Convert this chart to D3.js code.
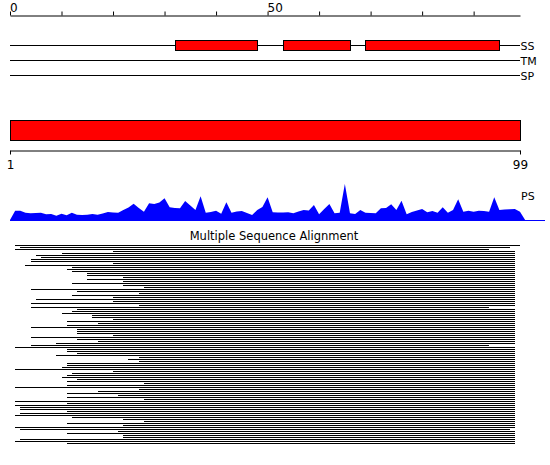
<!DOCTYPE html>
<html><head><meta charset="utf-8">
<script src="https://cdn.jsdelivr.net/npm/d3@7"></script>
<style>body{margin:0;background:#fff}svg{display:block}text{font-family:"DejaVu Sans",sans-serif}</style>
</head><body>
<svg id="chart" width="550" height="465"></svg>
<script>
// ---- data ----
const topTicks = [0,10,20,30,40,50,60,70,80,90];
const topLabels = [0,50];
const trackNames = ["SS","TM","SP"];
const ssStarts = [32,53,69];
const ssEnds   = [48,66,95];
const domainStart = 0, domainEnd = 99;
const rangeLabels = [1,99];
const psValues = [9.3,9.3,7.3,6.7,7,7.3,5.7,6,4.3,6.3,4.7,7.3,5.3,5,5.3,6,5.3,6.5,8,7.5,
  7.3,10,12.5,16.3,12,8.3,16.7,16,17.5,21.7,12.7,12,11.7,19,14.5,10,23.7,7.3,8,9.3,
  6.3,17.7,7.3,8.5,9,7,5,10,13,22.7,7.7,7.5,7.5,7.7,6.7,8.5,10,9.5,15,5.7,
  11,16,6.7,7.3,36,6.7,6,10,7.3,7,6.7,11.7,12,15.7,10,19.3,5.7,8,9.5,11,
  7.7,9,7.3,12.7,7.3,10,20.7,8.3,9.3,8.3,9.3,9,8.3,22.7,10,10.5,10.7,11,8.3]; // residues 1..99
const msaStarts = [1,2,1,20,10,5,6,4,4,20,3,12,11,12,15,15,22,15,22,12,
  22,26,4,13,25,12,20,5,20,4,25,4,13,12,10,16,16,20,11,17,
  11,4,13,13,13,20,4,13,17,9,4,1,11,11,13,9,25,23,25,11,
  11,10,1,20,12,11,10,13,11,26,11,1,25,17,11,21,11,26,1,11,
  1,2,2,11,2,1,12,22,26,11,22,1,2,21,11,22,22,2,1,11];
const msaEnds = [99,97,93,98,98,98,98,98,98,98,98,98,98,98,98,98,98,98,98,98,
  98,98,98,98,98,98,98,98,98,98,98,93,98,98,98,98,98,98,98,98,
  98,98,98,98,98,98,98,98,98,98,93,98,98,98,98,98,98,98,98,98,
  98,98,98,98,98,98,98,98,98,98,98,98,98,98,98,98,98,98,98,98,
  98,98,98,98,98,98,98,98,98,98,98,98,97,98,98,98,98,98,98,98];
const msaTitle = "Multiple Sequence Alignment";

// ---- drawing ----
const svg = d3.select("#chart");
const x = d3.scaleLinear().domain([domainStart, domainEnd]).range([10, 520]);

// top ruler
const topAxis = d3.axisTop(x).tickValues(topTicks).tickSize(4).tickSizeOuter(0).tickPadding(0)
  .tickFormat(d => topLabels.includes(d) ? d : "");
const gTop = svg.append("g").attr("transform","translate(0,15.5)").call(topAxis);
gTop.selectAll("text").attr("text-anchor","start").attr("font-family","DejaVu Sans").attr("font-size","12px").attr("fill","#000").attr("dx","-0.5").attr("y",-3.5);
gTop.selectAll("path,line").attr("stroke","#000");

// tracks
const trackY = d3.scalePoint().domain(trackNames).range([45, 75]);
const gTr = svg.append("g");
gTr.selectAll("line.trk").data(trackNames).join("line").attr("class","trk")
  .attr("x1", x(domainStart)).attr("x2", x(domainEnd))
  .attr("y1", d => trackY(d)+0.5).attr("y2", d => trackY(d)+0.5)
  .attr("stroke","#000").attr("stroke-width",1);
gTr.selectAll("text").data(trackNames).join("text")
  .attr("x", x(domainEnd)+0.5).attr("y", d => trackY(d)+4.5)
  .attr("font-size","11px").attr("fill","#000").text(d => d);
gTr.selectAll("rect").data(ssStarts.map((s,i)=>({s, e: ssEnds[i]}))).join("rect")
  .attr("x", d => Math.round(x(d.s))+0.5).attr("width", d => Math.round(x(d.e)) - Math.round(x(d.s)))
  .attr("y", trackY("SS")-4.5).attr("height", 10)
  .attr("fill","#ff0000").attr("stroke","#000").attr("stroke-width",1);

// full-length bar
const xr = d3.scaleLinear().domain(rangeLabels).range([10, 520]);
svg.append("rect").attr("x", xr(rangeLabels[0])+0.5).attr("width", xr(rangeLabels[1])-xr(rangeLabels[0]))
  .attr("y", 120.5).attr("height", 20).attr("fill","#ff0000").attr("stroke","#000");
const botAxis = d3.axisBottom(xr).tickValues(rangeLabels).tickSize(4).tickSizeOuter(0).tickPadding(6);
const gBot = svg.append("g").attr("transform","translate(0,150.5)").call(botAxis);
gBot.selectAll("text").attr("font-family","DejaVu Sans").attr("font-size","12px").attr("fill","#000");
gBot.selectAll("path,line").attr("stroke","#000");

// PS profile
const psData = [0, ...psValues, 0];
const yps = d3.scaleLinear().domain([0, 40]).range([220, 180]);
svg.append("line").attr("x1", 10).attr("x2", 545).attr("y1", 220.5).attr("y2", 220.5).attr("stroke","#0000ff");
svg.append("path").datum(psData)
  .attr("d", d3.area().x((d,i) => x(i)).y0(yps(0)+1).y1(d => yps(d)))
  .attr("fill","#0000ff");
svg.append("text").attr("x", 521).attr("y", 200).attr("font-size","11px").attr("fill","#000").text("PS");

// MSA
svg.append("text").attr("x", 274).attr("y", 240).attr("text-anchor","middle")
  .attr("font-size","11.5px").attr("fill","#000").text(msaTitle);
const yRow = d3.scaleLinear().domain([0, 1]).range([245, 247]);
svg.append("g").selectAll("rect").data(msaStarts.map((s,i)=>({s, e: msaEnds[i], i}))).join("rect")
  .attr("x", d => Math.round(x(d.s))).attr("width", d => Math.round(x(d.e)) - Math.round(x(d.s)))
  .attr("y", d => yRow(d.i)).attr("height", 1).attr("fill","#000")
  .attr("shape-rendering","crispEdges");
</script>
</body></html>
